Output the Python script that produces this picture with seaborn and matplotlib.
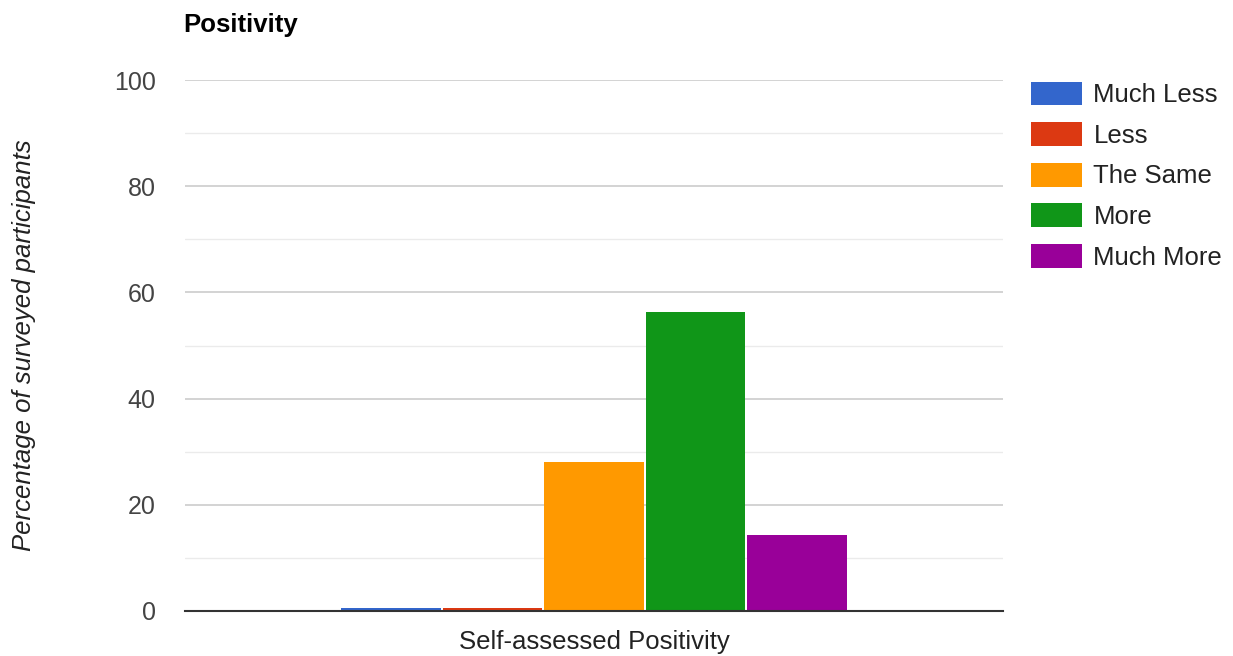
import matplotlib
matplotlib.use("Agg")
import matplotlib.pyplot as plt
import seaborn as sns
import pandas as pd
from matplotlib.ticker import MultipleLocator

categories = ["Self-assessed Positivity"]
series = ["Much Less", "Less", "The Same", "More", "Much More"]
values = [0.6, 0.6, 28.0, 56.4, 14.4]
colors = ["#3366cc", "#dc3912", "#ff9900", "#109618", "#990099"]
title = "Positivity"
ylabel = "Percentage of surveyed participants"

df = pd.DataFrame({"category": categories * len(series), "series": series, "value": values})

sns.set_theme(style="white")
plt.rcParams['font.family'] = ['Liberation Sans', 'DejaVu Sans']

fig = plt.figure(figsize=(12.33, 6.56), dpi=100)
ax = fig.add_axes([185/1233, 1-611/656, (1003-185)/1233, (611-80)/656])

sns.barplot(data=df, x="category", y="value", hue="series", hue_order=series,
            palette=colors, width=0.62, ax=ax, linewidth=0,
            saturation=1, zorder=3)

# small white gaps between adjacent bars
gap = 2.0 / 818
for p in ax.patches:
    w = p.get_width()
    if w > 0:
        p.set_x(p.get_x() + gap / 2)
        p.set_width(w - gap)

ax.set_xlim(-0.5, 0.5)
ax.set_ylim(0, 100)
ax.yaxis.set_major_locator(MultipleLocator(20))
ax.yaxis.set_minor_locator(MultipleLocator(10))
ax.grid(axis="y", which="major", color="#cccccc", linewidth=1.2, zorder=0)
ax.grid(axis="y", which="minor", color="#ebebeb", linewidth=1.0, zorder=0)
ax.set_axisbelow(True)
for s in ["top", "right", "left"]:
    ax.spines[s].set_visible(False)
ax.spines["bottom"].set_color("#333333")
ax.spines["bottom"].set_linewidth(1.5)
ax.spines["bottom"].set_zorder(5)
ax.tick_params(axis="both", which="both", length=0, labelsize=18, colors="#444444")
ax.tick_params(axis="y", pad=21)
ax.tick_params(axis="x", pad=14)
ax.set_xlabel("")
for lab in ax.get_xticklabels():
    lab.set_fontsize(18.5)
    lab.set_color("#222222")
ax.set_ylabel(ylabel, fontsize=18.5, style="italic", color="#222222")
ax.yaxis.set_label_coords(-149/818, 0.5)

fig.text(183/1233, 1-25/656, title, fontsize=18.5, fontweight="bold", color="#000000",
         ha="left", va="center")

leg = ax.legend(loc="upper left", bbox_to_anchor=((1031 - 185) / 818, 0.997), frameon=False,
                fontsize=18.5, handlelength=2.0, handleheight=1.05, labelspacing=0.58,
                handletextpad=0.43, borderaxespad=0, borderpad=0)
for t in leg.get_texts():
    t.set_color("#222222")

fig.savefig("out.png", dpi=100)
